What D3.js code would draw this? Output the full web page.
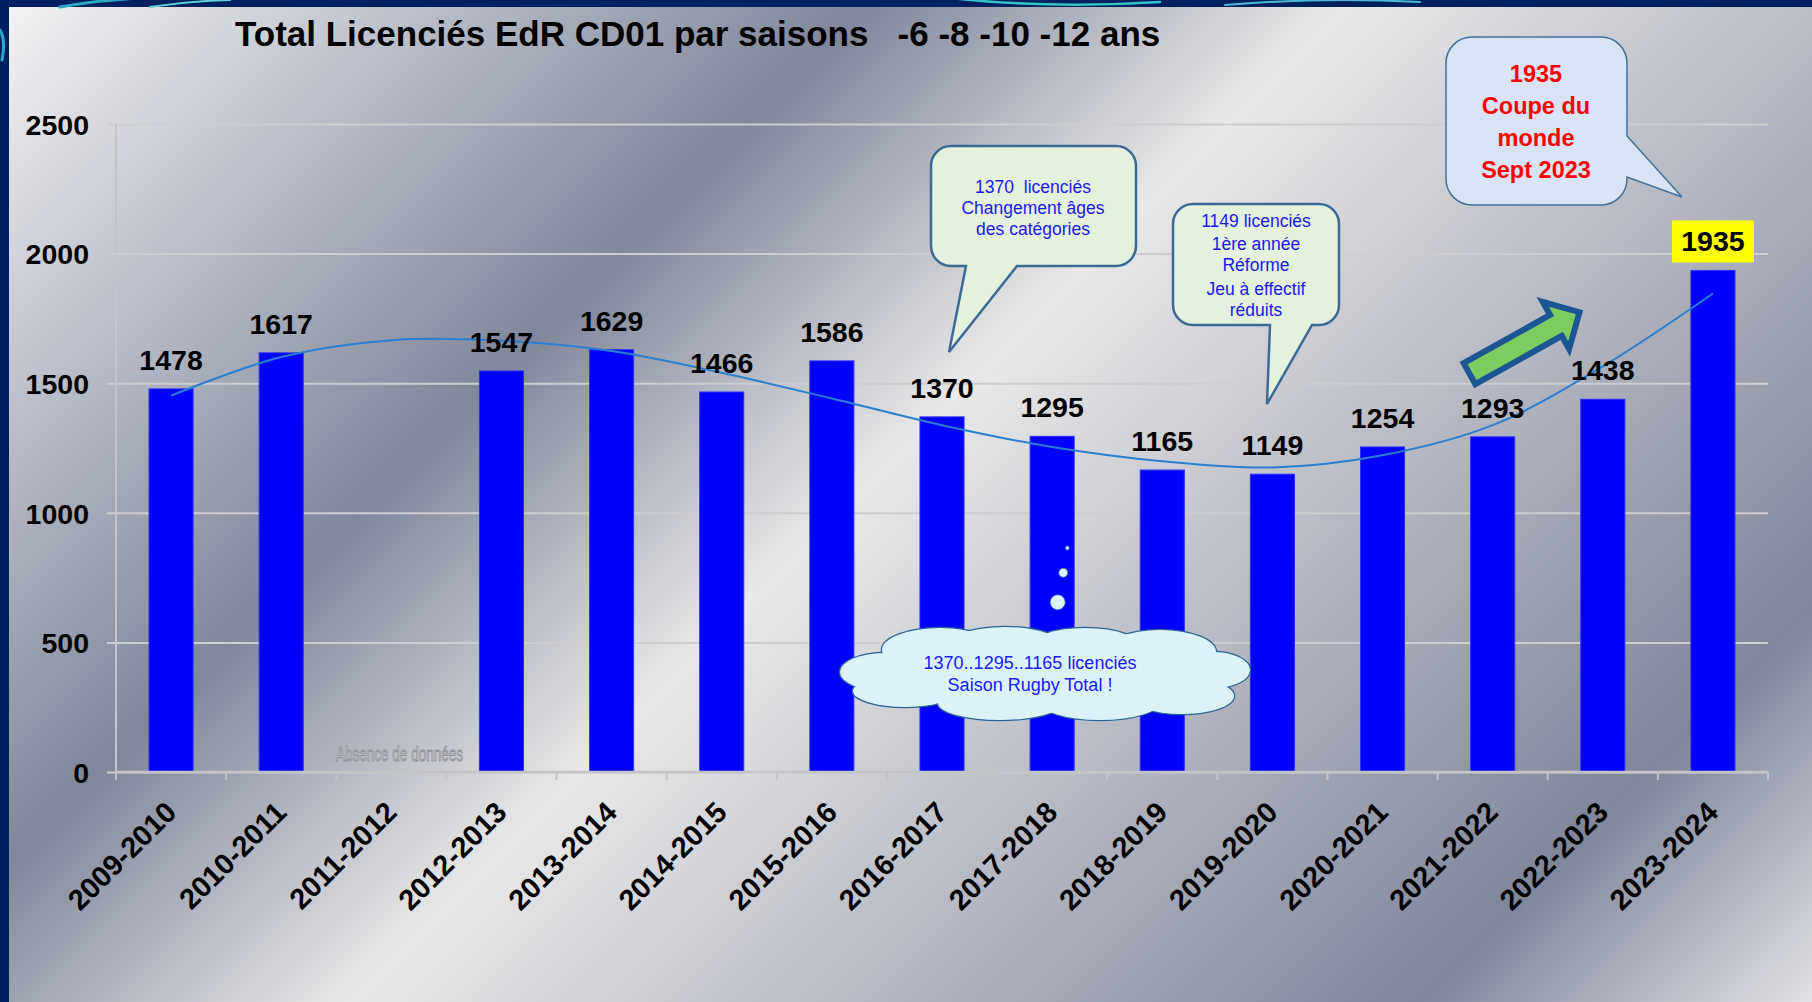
<!DOCTYPE html>
<html>
<head>
<meta charset="utf-8">
<script src="https://cdn.jsdelivr.net/npm/d3@7"></script>
<style>
html, body { margin: 0; padding: 0; background: #012061; overflow: hidden; }
svg { display: block; }
text { font-family: "Liberation Sans", Arial, sans-serif; white-space: pre; }
</style>
</head>
<body>
<div id="chart"></div>
<script>
// Saisons et nombre de licenciés (2011-2012 : pas de données)
const seasons = ['2009-2010', '2010-2011', '2011-2012', '2012-2013', '2013-2014', '2014-2015',
    '2015-2016', '2016-2017', '2017-2018', '2018-2019', '2019-2020', '2020-2021',
    '2021-2022', '2022-2023', '2023-2024'];
const licencies = [1478, 1617, null, 1547, 1629, 1466, 1586, 1370, 1295, 1165, 1149, 1254, 1293, 1438, 1935];
// Courbe de tendance
const trend = [1452, 1601, 1666, 1664, 1624, 1540, 1441, 1338, 1254, 1199, 1175, 1222, 1338, 1565, 1846];
const yTicks = [0, 500, 1000, 1500, 2000, 2500];

const width = 1812;
const height = 1002;
const margin = { left: 116, right: 44, top: 124, bottom: 230 };

const svg = d3.select('#chart')
    .append('svg')
    .attr('width', width)
    .attr('height', height);

const defs = svg.append('defs');

// Silver background gradient
const grad = defs.append('linearGradient')
    .attr('id', 'silver')
    .attr('gradientUnits', 'userSpaceOnUse')
    .attr('x1', 0).attr('y1', 0)
    .attr('x2', 1407).attr('y2', 1407);
[[0, '#f5f5f6'], [0.31, '#80879a'], [0.48, '#e8e8e8'], [0.86, '#80869a'], [1, '#e0e1e4']]
    .forEach(s => grad.append('stop').attr('offset', s[0]).attr('stop-color', s[1]));

// Navy frame + panel
svg.append('rect').attr('width', width).attr('height', height).attr('fill', '#012061');
svg.append('rect')
    .attr('x', 9).attr('y', 7)
    .attr('width', width - 9).attr('height', height - 7)
    .attr('fill', 'url(#silver)');

// Teal swirls on the frame
const swirl = svg.append('g').attr('fill', 'none').attr('stroke-linecap', 'round');
swirl.append('path').attr('d', 'M60,7 Q110,-2 170,-3').attr('stroke', '#2aa9c4').attr('stroke-width', 3);
swirl.append('path').attr('d', 'M150,7 Q190,1 230,0').attr('stroke', '#5fd3d8').attr('stroke-width', 2);
swirl.append('path').attr('d', 'M950,-2 Q1050,9 1160,2').attr('stroke', '#33c4c8').attr('stroke-width', 2.5);
swirl.append('path').attr('d', 'M1225,5 Q1320,-3 1420,2').attr('stroke', '#4ab8d8').attr('stroke-width', 2);
swirl.append('path').attr('d', 'M0,30 Q6,40 2,60').attr('stroke', '#2aa9c4').attr('stroke-width', 3);

// Scales
const x = d3.scaleBand()
    .domain(seasons)
    .range([margin.left, width - margin.right])
    .paddingInner(0.6)
    .paddingOuter(0.3);

const y = d3.scaleLinear()
    .domain([0, 2500])
    .range([height - margin.bottom, margin.top]);

const cx = (d, i) => x(seasons[i]) + x.bandwidth() / 2;

// Y axis with gridlines
const yAxis = svg.append('g')
    .attr('transform', `translate(${margin.left - 9},0)`)
    .call(d3.axisLeft(y)
        .tickValues(yTicks)
        .tickFormat(d3.format('d'))
        .tickSize(-(width - margin.right - margin.left + 9))
        .tickPadding(18));
yAxis.select('.domain').remove();
yAxis.selectAll('line').attr('stroke', '#cdcdcf').attr('stroke-width', 2);
yAxis.selectAll('text')
    .attr('font-size', 28.5)
    .attr('font-weight', 'bold')
    .attr('fill', '#000')
    .attr('dy', '0.36em');

svg.append('line')
    .attr('x1', margin.left).attr('x2', margin.left)
    .attr('y1', y(2500)).attr('y2', y(0))
    .attr('stroke', '#c4c4c6').attr('stroke-width', 2);

// Bars
svg.append('g')
    .selectAll('rect')
    .data(seasons.map((s, i) => ({ s, v: licencies[i] })).filter(d => d.v !== null))
    .join('rect')
    .attr('x', d => x(d.s))
    .attr('y', d => y(d.v))
    .attr('width', x.bandwidth())
    .attr('height', d => y(0) - y(d.v))
    .attr('fill', '#0000ff')
    .attr('stroke', '#2b2bff')
    .attr('stroke-width', 1);

// X axis
const x0 = x.range()[0];
svg.append('line')
    .attr('x1', x0).attr('x2', x.range()[1])
    .attr('y1', y(0)).attr('y2', y(0))
    .attr('stroke', '#c4c4c6').attr('stroke-width', 2.5);
svg.append('g')
    .selectAll('line')
    .data(d3.range(seasons.length + 1))
    .join('line')
    .attr('x1', i => x0 + i * x.step())
    .attr('x2', i => x0 + i * x.step())
    .attr('y1', y(0)).attr('y2', y(0) + 8)
    .attr('stroke', '#c4c4c6').attr('stroke-width', 2);

const xAxis = svg.append('g')
    .attr('transform', `translate(0,${y(0)})`)
    .call(d3.axisBottom(x).tickSize(0));
xAxis.select('.domain').remove();
xAxis.selectAll('text')
    .attr('font-size', 29)
    .attr('font-weight', 'bold')
    .attr('fill', '#000')
    .attr('text-anchor', 'end')
    .attr('x', 0).attr('y', 0).attr('dy', 0)
    .attr('transform', 'translate(7,42) rotate(-45)');

// Trend line (polynomial)
const trendLine = d3.line()
    .x((d, i) => cx(d, i))
    .y(d => y(d))
    .curve(d3.curveCatmullRom);
svg.append('path')
    .datum(trend)
    .attr('d', trendLine)
    .attr('fill', 'none')
    .attr('stroke', '#2a7fd0')
    .attr('stroke-width', 2);

// Value labels
const labels = svg.append('g');
licencies.forEach((v, i) => {
    if (v === null) return;
    const last = i === licencies.length - 1;
    if (last) {
        labels.append('rect')
            .attr('x', cx(v, i) - 41)
            .attr('y', y(v) - 50)
            .attr('width', 82)
            .attr('height', 42)
            .attr('fill', '#ffff00');
    }
    labels.append('text')
        .attr('x', cx(v, i))
        .attr('y', y(v) - 19)
        .attr('text-anchor', 'middle')
        .attr('font-size', 28.5)
        .attr('font-weight', 'bold')
        .attr('fill', '#000')
        .text(v);
});

// Absence de données
svg.append('text')
    .attr('x', 336).attr('y', 761)
    .attr('textLength', 127)
    .attr('lengthAdjust', 'spacingAndGlyphs')
    .attr('font-family', '"Liberation Sans Narrow", "Liberation Sans", sans-serif')
    .attr('font-size', 21)
    .attr('fill', '#c3c6cc')
    .attr('stroke', '#8c8c90')
    .attr('stroke-width', 0.8)
    .text('Absence de données');

// Title
svg.append('text')
    .attr('x', 235).attr('y', 46)
    .attr('font-size', 35)
    .attr('font-weight', 'bold')
    .attr('fill', '#000')
    .text('Total Licenciés EdR CD01 par saisons   -6 -8 -10 -12 ans');

// Callouts
function bubble(x0, y0, x1, y1, r, tail) {
    // tail: {side:'bottom'|'right', a, b, tx, ty}
    let p = `M${x0 + r},${y0} H${x1 - r} A${r},${r} 0 0 1 ${x1},${y0 + r}`;
    if (tail.side === 'right') {
        p += ` V${tail.a} L${tail.tx},${tail.ty} L${x1},${tail.b}`;
    }
    p += ` V${y1 - r} A${r},${r} 0 0 1 ${x1 - r},${y1}`;
    if (tail.side === 'bottom') {
        p += ` H${tail.b} L${tail.tx},${tail.ty} L${tail.a},${y1}`;
    }
    p += ` H${x0 + r} A${r},${r} 0 0 1 ${x0},${y1 - r} V${y0 + r} A${r},${r} 0 0 1 ${x0 + r},${y0} Z`;
    return p;
}

function bubbleText(cxp, lines, opts) {
    const t = svg.append('text')
        .attr('text-anchor', 'middle')
        .attr('font-family', 'Lato, "Open Sans", sans-serif')
        .attr('font-size', opts.size)
        .attr('font-weight', opts.weight || 'normal')
        .attr('fill', opts.color);
    lines.forEach(l => t.append('tspan').attr('x', cxp).attr('y', l[1]).text(l[0]));
}

svg.append('path')
    .attr('d', bubble(931, 146, 1136, 266, 20, { side: 'bottom', a: 966, b: 1017, tx: 949, ty: 352 }))
    .attr('fill', '#e4f1dd').attr('stroke', '#3b6b95').attr('stroke-width', 2.5);
bubbleText(1033, [['1370  licenciés', 193], ['Changement âges', 214], ['des catégories', 235]],
    { size: 17.5, color: '#1a1aee' });

svg.append('path')
    .attr('d', bubble(1173, 204, 1339, 325, 20, { side: 'bottom', a: 1270, b: 1312, tx: 1267, ty: 404 }))
    .attr('fill', '#e4f1dd').attr('stroke', '#3b6b95').attr('stroke-width', 2.5);
bubbleText(1256, [['1149 licenciés', 227], ['1ère année', 249.5], ['Réforme', 270.5],
    ['Jeu à effectif', 294.5], ['réduits', 315.5]], { size: 17.5, color: '#1a1aee' });

svg.append('path')
    .attr('d', bubble(1446, 37, 1627, 205, 26, { side: 'right', a: 136, b: 177, tx: 1682, ty: 197 }))
    .attr('fill', '#dae3f3').attr('stroke', '#41719c').attr('stroke-width', 1.5);
bubbleText(1536, [['1935', 82], ['Coupe du', 114], ['monde', 146], ['Sept 2023', 178]],
    { size: 23.5, weight: 'bold', color: '#ff0000' });

// Green arrow
svg.append('path')
    .attr('transform', 'translate(1469.5,373.7) rotate(-29.2)')
    .attr('d', 'M0,-12 H99 V-27 L126,0 L99,27 V12 H0 Z')
    .attr('fill', '#7ecb60')
    .attr('stroke', '#1b5592')
    .attr('stroke-width', 6)
    .attr('stroke-linejoin', 'miter');

// Thought cloud
const puffs = [
    [885, 672, 45, 19], [905, 691, 52, 16], [940, 650, 58, 22], [1005, 650, 62, 23],
    [1085, 649, 58, 21], [1160, 652, 56, 22], [1213, 670, 37, 18], [1182, 696, 52, 18],
    [1100, 700, 62, 20], [1000, 703, 62, 17], [1045, 672, 180, 34]
];
const cloud = svg.append('g');
cloud.selectAll('ellipse.o')
    .data(puffs).join('ellipse')
    .attr('cx', d => d[0]).attr('cy', d => d[1]).attr('rx', d => d[2]).attr('ry', d => d[3])
    .attr('fill', 'none').attr('stroke', '#2c6496').attr('stroke-width', 2.5);
cloud.selectAll('ellipse.i')
    .data(puffs).join('ellipse')
    .attr('class', 'i')
    .attr('cx', d => d[0]).attr('cy', d => d[1]).attr('rx', d => d[2]).attr('ry', d => d[3])
    .attr('fill', '#dbf3f8');
[[1057.7, 602.3, 7.5], [1063.3, 572.7, 4.5], [1067.3, 548, 2]].forEach(b => {
    cloud.append('circle').attr('cx', b[0]).attr('cy', b[1]).attr('r', b[2])
        .attr('fill', '#dbf3f8').attr('stroke', '#2c6496').attr('stroke-width', 0.6);
});
const ct = svg.append('text')
    .attr('text-anchor', 'middle')
    .attr('font-size', 18)
    .attr('fill', '#1a1aff');
ct.append('tspan').attr('x', 1030).attr('y', 668.5).text('1370..1295..1165 licenciés');
ct.append('tspan').attr('x', 1030).attr('y', 690.5).text('Saison Rugby Total !');
</script>
</body>
</html>
